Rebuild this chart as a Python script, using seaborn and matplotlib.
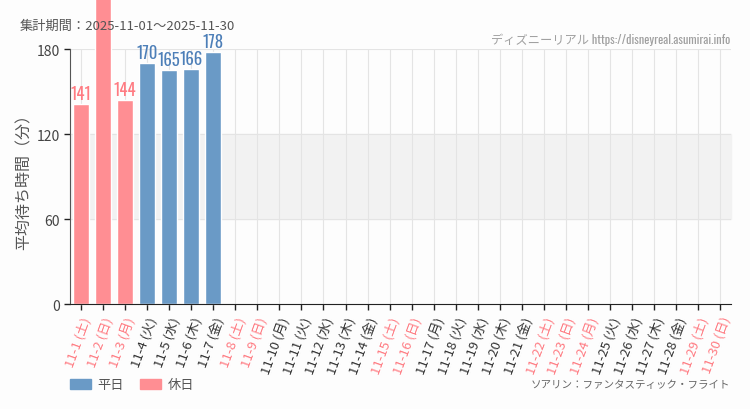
import numpy as np
import pandas as pd
import matplotlib
matplotlib.use("Agg")
import matplotlib.pyplot as plt
import seaborn as sns
from matplotlib.patches import Patch

sns.set_style("white")
plt.rcParams['font.family'] = ['Noto Sans CJK JP', 'DejaVu Sans']
narrow = ['Oswald', 'Barlow Condensed', 'Noto Sans CJK JP', 'DejaVu Sans']

# data
days = [f"11-{d}" for d in range(1, 31)]
weekdays = (["土", "日", "月", "火", "水", "木", "金"] * 5)[:30]
holiday = [w in ("土", "日") for w in weekdays]
holiday[2] = True    # 11-3 文化の日
holiday[23] = True   # 11-24 振替休日
wait = [141, 230, 144, 170, 165, 166, 178] + [np.nan] * 23

labels = [f"{d} ({w})" for d, w in zip(days, weekdays)]
df = pd.DataFrame({
    "label": labels,
    "wait": wait,
    "kind": ["休日" if h else "平日" for h in holiday],
})

blue = "#6a9ac6"
pink = "#ff8e93"
blue_txt = "#4d7fb8"
pink_txt = "#ff7b82"

fig = plt.figure(figsize=(7.5, 4.1), dpi=100, facecolor="#fdfdfd")
ax = fig.add_axes([0.0933, 0.256, 0.8817, 0.622])
ax.set_facecolor("#fdfdfd")

ax.axhspan(60, 120, color="#f2f2f2", zorder=0)
for y in (60, 120, 180):
    ax.axhline(y, color="#e4e4e4", lw=0.8, zorder=0.5)
for i in range(30):
    ax.axvline(i, color="#e4e4e4", lw=0.8, zorder=0.5)

sns.barplot(data=df, x="label", y="wait", hue="kind", order=labels,
            palette={"平日": blue, "休日": pink}, dodge=False, width=0.72,
            saturation=1, legend=False, ax=ax, zorder=2)
for p in ax.patches:
    p.set_clip_on(False)

for i, (v, h) in enumerate(zip(wait, holiday)):
    if np.isnan(v) or v > 180:
        continue
    ax.text(i, v + 1.5, f"{int(v)}", ha="center", va="bottom",
            fontsize=12, fontweight="medium", family=narrow,
            color=pink_txt if h else blue_txt)

ax.set_xlim(-0.5, 29.5)
ax.set_ylim(0, 180)
ax.set_yticks([0, 60, 120, 180])
ax.set_yticklabels(["0", "60", "120", "180"], fontsize=10, color="#444444")
ax.set_xlabel("")
ax.set_ylabel("平均待ち時間（分）", fontsize=11.5, color="#555555")
ax.yaxis.set_label_coords(-0.056, 0.5)

ax.set_xticks(range(30))
ax.set_xticklabels(labels, rotation=70, ha="right", rotation_mode="anchor",
                   fontsize=9.5)
for t, h in zip(ax.get_xticklabels(), holiday):
    t.set_color(pink_txt if h else "#333333")

ax.tick_params(axis="both", direction="out", length=4, width=1, color="#222222",
               bottom=True, left=True)
for s in ("top", "right"):
    ax.spines[s].set_visible(False)
ax.spines["left"].set_color("#555555")
ax.spines["bottom"].set_color("#222222")

fig.text(20 / 750, 1 - 26 / 410, "集計期間：2025-11-01～2025-11-30",
         fontsize=9.5, color="#555555", va="center")
fig.text(730 / 750, 1 - 40 / 410, "ディズニーリアル https://disneyreal.asumirai.info",
         fontsize=8.8, color="#a0a0a0", va="center", ha="right", family=narrow)
fig.text(730 / 750, 1 - 385 / 410, "ソアリン：ファンタスティック・フライト",
         fontsize=7.6, color="#666666", va="center", ha="right")

handles = [Patch(color=blue, label="平日"), Patch(color=pink, label="休日")]
fig.legend(handles=handles, loc="center left", bbox_to_anchor=(58 / 750, 1 - 386 / 410),
           ncol=2, frameon=False, fontsize=9.5, handlelength=1.6, handleheight=0.8,
           columnspacing=1.2, handletextpad=0.5, labelcolor="#555555")

fig.savefig("out.png", dpi=100, facecolor=fig.get_facecolor())
